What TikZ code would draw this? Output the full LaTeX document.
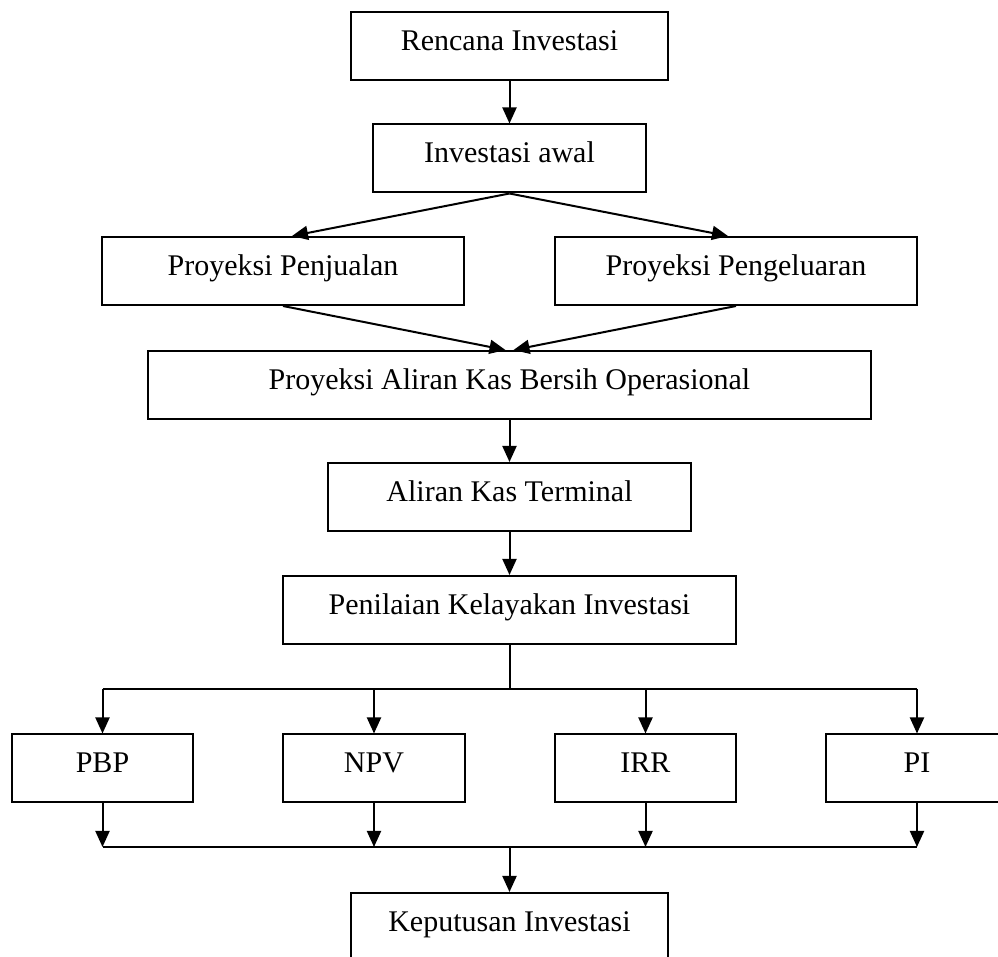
\documentclass[tikz,border=0pt]{standalone}
\usepackage{fontspec}
\setmainfont{Liberation Serif}
\usetikzlibrary{arrows.meta,positioning}

\begin{document}
\begin{tikzpicture}[x=0.5pt, y=-0.5pt,
    every node/.style={font=\fontsize{15}{18}\selectfont, align=center,
      text height=10.5pt, text depth=6pt, inner sep=0pt},
    box/.style={draw, line width=1pt, minimum height=34pt},
    flow/.style={-{Triangle[length=8pt,width=7pt]}, line width=1pt}
  ]
    \useasboundingbox (0,0) rectangle (998,957);
    \clip (0,0) rectangle (998,957);
    \node[box, minimum width=158.5pt] (rencana) at (509.5,46) {Rencana Investasi};
    \node[box, minimum width=136.5pt] (awal) at (509.5,158.5) {Investasi awal};
    \node[box, minimum width=181pt] (jual) at (283,271) {Proyeksi Penjualan};
    \node[box, minimum width=181pt] (keluar) at (736,271) {Proyeksi Pengeluaran};
    \node[box, minimum width=361.5pt] (aliran) at (509.5,385) {Proyeksi Aliran Kas Bersih Operasional};
    \node[box, minimum width=181.5pt] (terminal) at (509.5,497) {Aliran Kas Terminal};
    \node[box, minimum width=226.5pt] (nilai) at (509.5,610) {Penilaian Kelayakan Investasi};
    \node[box, minimum width=90.5pt] (pbp) at (102.5,768.5) {PBP};
    \node[box, minimum width=91pt] (npv) at (374,768.5) {NPV};
    \node[box, minimum width=90.5pt] (irr) at (645.5,768.5) {IRR};
    \node[box, minimum width=91pt] (pi) at (917,768.5) {PI};
    \node[box, minimum width=158.5pt] (putusan) at (509.5,927) {Keputusan Investasi};
    % top part
    \draw[flow] (rencana.south) -- (awal.north);
    \draw[flow] (awal.south) -- ([xshift=4.5pt]jual.north);
    \draw[flow] (awal.south) -- ([xshift=-4pt]keluar.north);
    \draw[flow] (jual.south) -- ([xshift=-2pt]aliran.north);
    \draw[flow] (keluar.south) -- ([xshift=2pt]aliran.north);
    \draw[flow] (aliran.south) -- (terminal.north);
    \draw[flow] (terminal.south) -- (nilai.north);
    % split to the four criteria and join again
    \coordinate (split) at (509.5,689);
    \coordinate (join) at (509.5,847);
    \draw[line width=1pt] (nilai.south) -- (split);
    \draw[line width=1pt] (pbp.north |- split) -- (pi.north |- split);
    \foreach \m in {pbp,npv,irr,pi}{
      \draw[flow] (\m.north |- split) -- (\m.north);
      \draw[flow] (\m.south) -- (\m.south |- join);
    }
    \draw[line width=1pt] (pbp.south |- join) -- (pi.south |- join);
    \draw[flow] (join) -- (putusan.north);
  \end{tikzpicture}
\end{document}
